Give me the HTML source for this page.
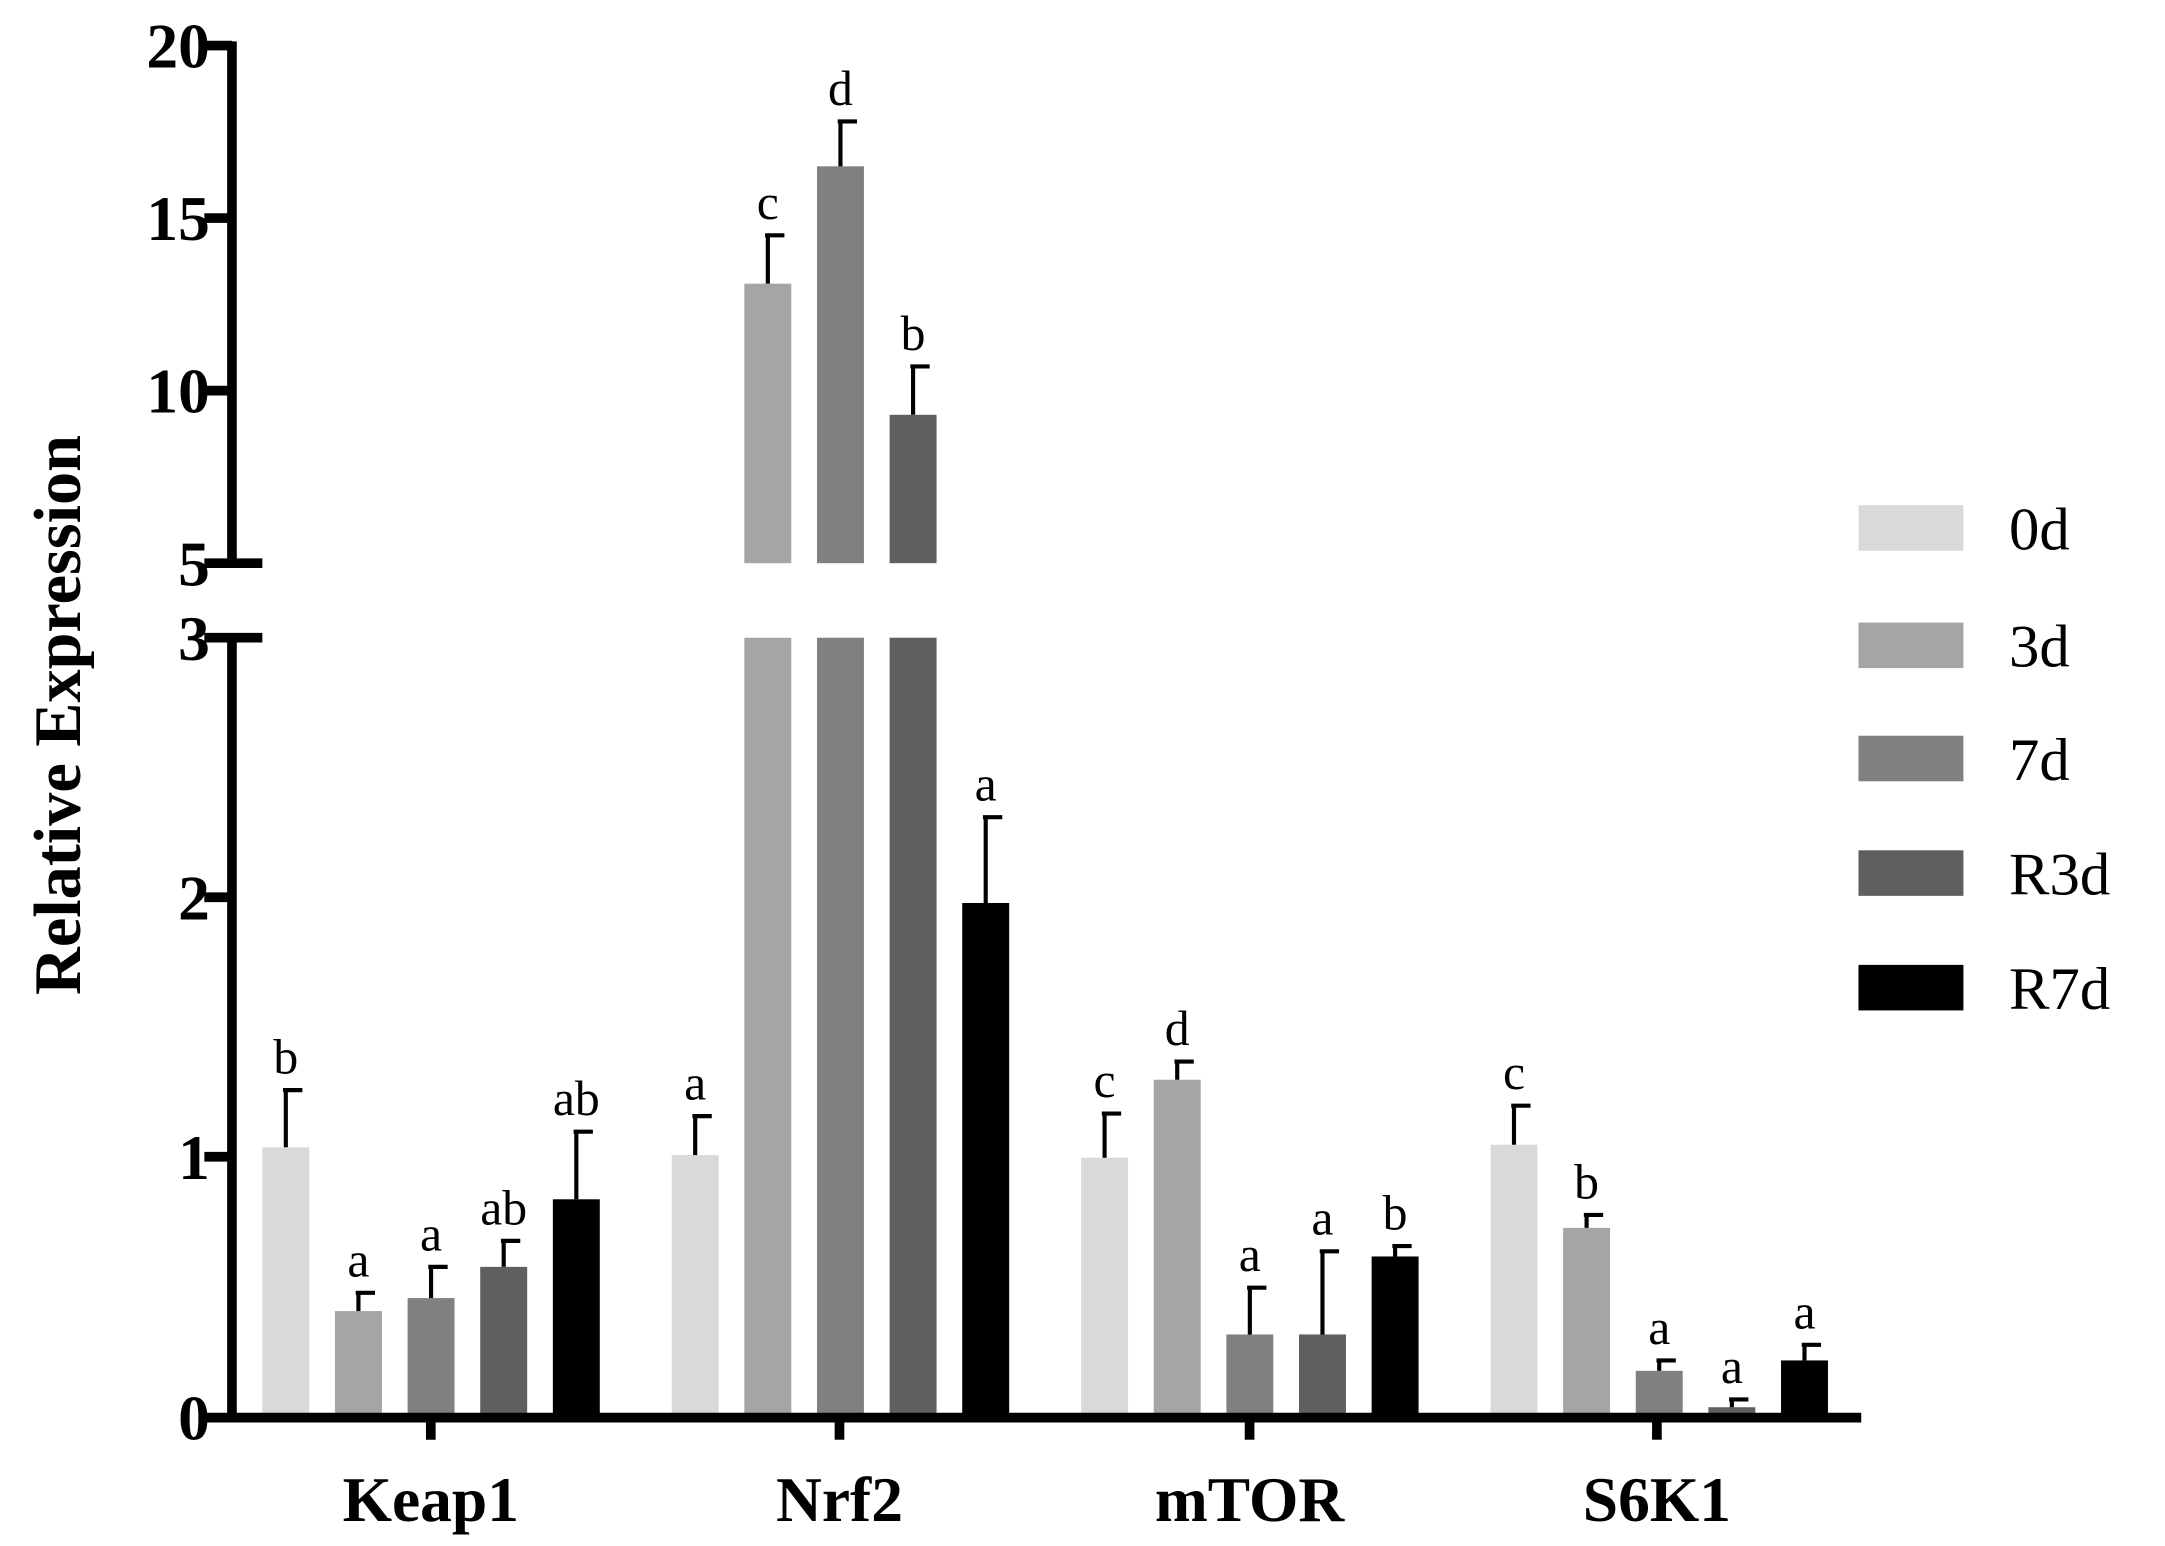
<!DOCTYPE html>
<html><head><style>html,body{margin:0;padding:0;background:#fff;}svg{display:block}</style></head>
<body>
<svg width="2165" height="1546" viewBox="0 0 1568 1120" preserveAspectRatio="none" xmlns="http://www.w3.org/2000/svg" font-family="Liberation Serif, serif">
<rect width="1568" height="1120" fill="#fff"/>
<g id="bars"></g>
<g stroke="#000" stroke-width="7" fill="none">
<line x1="168" y1="30" x2="168" y2="408"/>
<line x1="168" y1="462" x2="168" y2="1030"/>
<line x1="165" y1="1027" x2="1348" y2="1027"/>
<line x1="148" y1="33" x2="168" y2="33"/>
<line x1="148" y1="158" x2="168" y2="158"/>
<line x1="148" y1="283" x2="168" y2="283"/>
<line x1="148" y1="408" x2="190" y2="408"/>
<line x1="148" y1="462" x2="190" y2="462"/>
<line x1="148" y1="650" x2="168" y2="650"/>
<line x1="148" y1="838" x2="168" y2="838"/>
<line x1="148" y1="1027" x2="168" y2="1027"/>
<line x1="312" y1="1027" x2="312" y2="1043"/>
<line x1="608" y1="1027" x2="608" y2="1043"/>
<line x1="905" y1="1027" x2="905" y2="1043"/>
<line x1="1200" y1="1027" x2="1200" y2="1043"/>
</g>
<g font-size="46" font-weight="bold" text-anchor="end">
<text x="152" y="49">20</text><text x="152" y="174">15</text><text x="152" y="299">10</text><text x="152" y="424">5</text>
<text x="152" y="478">3</text><text x="152" y="666">2</text><text x="152" y="854">1</text><text x="152" y="1043">0</text>
</g>
<text transform="translate(58,518) rotate(-90)" font-size="48" font-weight="bold" text-anchor="middle">Relative Expression</text>
<g font-size="46" font-weight="bold" text-anchor="middle">
<text x="312" y="1102">Keap1</text><text x="608" y="1102">Nrf2</text><text x="905" y="1102">mTOR</text><text x="1200" y="1102">S6K1</text>
</g>
<g font-size="44">
<rect x="1346" y="366" width="76" height="33" fill="#d9d9d9"/><text x="1455" y="398">0d</text>
<rect x="1346" y="451" width="76" height="33" fill="#a5a5a8"/><text x="1455" y="483">3d</text>
<rect x="1346" y="533" width="76" height="33" fill="#808080"/><text x="1455" y="565">7d</text>
<rect x="1346" y="616" width="76" height="33" fill="#5f5f5f"/><text x="1455" y="648">R3d</text>
<rect x="1346" y="699" width="76" height="33" fill="#000"/><text x="1455" y="731">R7d</text>
</g>
<script>
(function(){
var cols=["#d9d9d9","#a5a5a8","#808080","#5f5f5f","#000"];
var data=[
[[1.04,1.26,"b"],[0.41,0.48,"a"],[0.46,0.58,"a"],[0.58,0.68,"ab"],[0.84,1.10,"ab"]],
[[1.01,1.16,"a"],[13.1,14.5,"c"],[16.5,17.8,"d"],[9.3,10.7,"b"],[1.98,2.31,"a"]],
[[1.0,1.17,"c"],[1.3,1.37,"d"],[0.32,0.5,"a"],[0.32,0.64,"a"],[0.62,0.66,"b"]],
[[1.05,1.2,"c"],[0.73,0.78,"b"],[0.18,0.22,"a"],[0.04,0.07,"a"],[0.22,0.28,"a"]]];
function Y(v){return v<=3?1027-v*188.3:408-(v-5)*25;}
var ns="http://www.w3.org/2000/svg",g=document.getElementById("bars");
function el(t,a){var e=document.createElementNS(ns,t);for(var k in a)e.setAttribute(k,a[k]);g.appendChild(e);return e;}
for(var i=0;i<4;i++)for(var j=0;j<5;j++){
var d=data[i][j],x=190+i*296.5+j*52.6,w=34,cx=x+w/2;
if(d[0]>3){el("rect",{x:x,y:462,width:w,height:565,fill:cols[j]});el("rect",{x:x,y:Y(d[0]),width:w,height:408-Y(d[0]),fill:cols[j]});}
else el("rect",{x:x,y:Y(d[0]),width:w,height:1027-Y(d[0]),fill:cols[j]});
var ye=Y(d[1]);
el("line",{x1:cx,y1:Y(d[0]),x2:cx,y2:ye,stroke:"#000","stroke-width":3});
el("line",{x1:cx-2,y1:ye,x2:cx+12,y2:ye,stroke:"#000","stroke-width":3});
var t=el("text",{x:cx,y:ye-12,"font-size":36,"text-anchor":"middle"});t.textContent=d[2];
}})();
</script>
</svg>
</body></html>
